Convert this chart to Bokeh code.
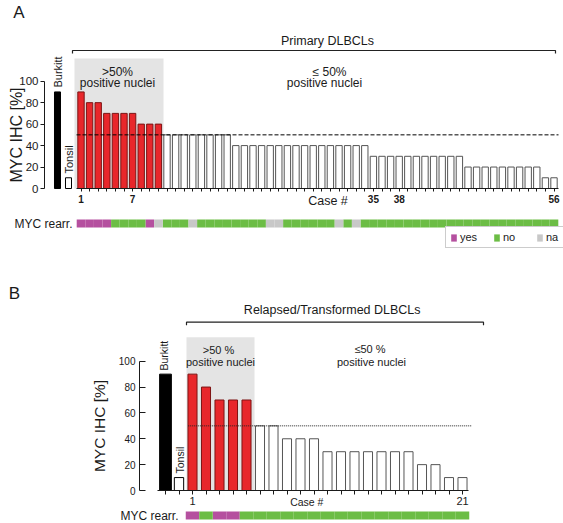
from math import pi
from bokeh.plotting import figure
from bokeh.models import Range1d, FixedTicker, LinearAxis, Legend, LegendItem
from bokeh.embed import file_html
from bokeh.resources import INLINE
from bokeh.core.properties import value

FONT = "Liberation Sans"

# ---------------- data ----------------
a_cases = list(range(1, 57))
a_values = [90, 80, 80, 70, 70, 70, 70, 60, 60, 60,
            50, 50, 50, 50, 50, 50, 50, 50,
            40, 40, 40, 40, 40, 40, 40, 40, 40, 40, 40, 40, 40, 40, 40, 40,
            30, 30, 30, 30, 30, 30, 30, 30, 30, 30, 30,
            20, 20, 20, 20, 20, 20, 20, 20, 20,
            10, 10]
a_rearr = ["yes", "yes", "yes", "yes", "no", "no", "no", "no", "yes", "na",
           "no", "no", "no", "na", "no", "no", "no", "no", "no", "no", "no", "no",
           "na", "na", "no", "no", "no", "no", "no", "no", "na", "no", "na",
           "no", "no", "no", "no", "no", "no", "no", "no", "no", "no", "no", "no",
           "no", "no", "no", "no", "no", "no", "no", "no", "no", "no", "no"]
a_tick_labels = {1: "1", 7: "7", 35: "35", 38: "38", 56: "56"}

controls = ["Burkitt", "Tonsil"]
a_control_values = [90, 10]

b_cases = list(range(1, 22))
b_values = [90, 80, 70, 70, 70, 50, 50, 40, 40, 40,
            30, 30, 30, 30, 30, 30, 30, 20, 20, 10, 10]
b_rearr = ["yes", "no", "yes", "yes", "no", "no", "no", "no", "no", "no", "no",
           "no", "no", "no", "no", "no", "no", "no", "no", "no", "no"]
b_control_values = [90, 10]
b_control_pos = [-1, 0]
b_tick_labels = {1: "1", 21: "21"}

y_ticks = [0, 20, 40, 60, 80, 100]
threshold = 50
rearr_levels = ["yes", "no", "na"]

# ---------------- styles ----------------
RED, RED_LINE = "#e8272b", "#7d1414"
WHITE_LINE = "#555555"
SHADE = "#e4e4e4"
REARR_COLORS = {"yes": "#b5509f", "no": "#6cbd45", "na": "#c8c8c8"}
INK = "#1a1a1a"

W, H = 563, 523

# pixel -> data helpers used only to place annotations
AX = lambda px: 1 + (px - 80.5) / 8.6
AY = lambda py: (188 - py) / 1.073
BX = lambda px: 1 + (px - 192) / 13.5
BY = lambda py: (490 - py) / 1.293

p = figure(width=W, height=H,
           x_range=Range1d(AX(0), AX(W)), y_range=Range1d(AY(H), AY(0)),
           x_axis_location=None, y_axis_location=None,
           output_backend="svg", toolbar_location=None, min_border=0)
p.extra_x_ranges = {"bx": Range1d(BX(0), BX(W))}
p.extra_y_ranges = {"by": Range1d(BY(H), BY(0))}
p.title.visible = False
p.xgrid.visible = False
p.ygrid.visible = False
p.outline_line_color = None
p.background_fill_color = "white"
p.border_fill_color = "white"

B = dict(x_range_name="bx", y_range_name="by")


def txt(x, y, s, size, angle=0, align="center", baseline="middle", style="normal", **kw):
    p.text(x=[x], y=[y], text=[s], angle=angle, text_align=align, text_baseline=baseline,
           text_font=value(FONT), text_font_size=value(size), text_color=INK,
           text_font_style=style, **kw)


def y_axis(loc, tick_in, tick_out, standoff, size, label, label_size, label_standoff, **kw):
    ax = LinearAxis(fixed_location=loc, bounds=(0, 100), ticker=FixedTicker(ticks=y_ticks), **kw)
    ax.minor_tick_line_color = None
    ax.major_tick_in = tick_in
    ax.major_tick_out = tick_out
    ax.major_label_standoff = standoff
    ax.major_label_text_font = FONT
    ax.major_label_text_font_size = size
    ax.major_label_text_color = INK
    ax.axis_line_color = INK
    ax.major_tick_line_color = INK
    ax.axis_label = label
    ax.axis_label_text_font = FONT
    ax.axis_label_text_font_size = label_size
    ax.axis_label_text_font_style = "normal"
    ax.axis_label_text_color = INK
    ax.axis_label_standoff = label_standoff
    p.add_layout(ax, "left")


def x_axis(ticks, labels, bounds, tick_out, standoff, size, style, **kw):
    ax = LinearAxis(fixed_location=0, bounds=bounds, ticker=FixedTicker(ticks=ticks), **kw)
    ax.major_label_overrides = {t: labels.get(t, "") for t in ticks}
    ax.minor_tick_line_color = None
    ax.major_tick_in = 0
    ax.major_tick_out = tick_out
    ax.major_label_standoff = standoff
    ax.major_label_text_font = FONT
    ax.major_label_text_font_size = size
    ax.major_label_text_font_style = style
    ax.major_label_text_color = INK
    ax.axis_line_color = INK
    ax.major_tick_line_color = INK
    p.add_layout(ax, "below")


# ================= Panel A =================
p.quad(left=[AX(74)], right=[AX(163)], bottom=[0], top=[AY(58)], fill_color=SHADE, line_color=None)
p.vbar(x=a_cases, top=a_values, width=0.74,
       fill_color=[RED if v > threshold else "white" for v in a_values],
       line_color=[RED_LINE if v > threshold else WHITE_LINE for v in a_values], line_width=1)
p.vbar(x=[AX(57), AX(68)], top=a_control_values, width=0.7,
       fill_color=["black", "white"], line_color="black", line_width=1)
p.segment(x0=[AX(76)], y0=[threshold], x1=[AX(558)], y1=[threshold],
          line_color="black", line_width=1, line_dash="4 2")
p.multi_line(xs=[[AX(72), AX(72), AX(555), AX(555)]], ys=[[AY(53), AY(50), AY(50), AY(53)]],
             line_color="#222222", line_width=1.2)
txt(AX(117), AY(71.5), ">50%", "12px")
txt(AX(117), AY(82), "positive nuclei", "12px")
txt(AX(329), AY(71.5), "\u2264 50%", "12px")
txt(AX(324), AY(82), "positive nuclei", "12px")
txt(AX(327), AY(40), "Primary DLBCLs", "12.5px")
for name, px, py in zip(controls, [57.5, 68], [87, 173]):
    txt(AX(px), AY(py), name, "11px", angle=pi / 2, align="left")
txt(AX(18.5), AY(11.5), "A", "17px")
txt(AX(327.5), AY(200), "Case #", "12.5px")
y_axis(AX(44), 0, 4, 2, "11.5px", "MYC IHC [%]", "16px", -9)
x_axis(a_cases, a_tick_labels, (0.5, 56.5), 3, 3, "10px", "bold")

# MYC rearrangement strip A + legend
txt(AX(72), AY(223), "MYC rearr.", "12px", align="right")
items = []
for lev in rearr_levels:
    xs = [c for c, r in zip(a_cases, a_rearr) if r == lev]
    r = p.quad(left=[c - 0.5 for c in xs], right=[c + 0.5 for c in xs],
               bottom=AY(227), top=AY(219), fill_color=REARR_COLORS[lev], line_color=None)
    items.append(LegendItem(label=lev, renderers=[r]))
lg = Legend(items=items, orientation="horizontal", location=(445, H - 248),
            padding=4, spacing=13, label_standoff=3, margin=0,
            glyph_width=7, glyph_height=9, label_height=9,
            label_text_font=FONT, label_text_font_size="11px",
            label_text_color=INK, border_line_color="#9a9a9a",
            border_line_width=1.5, background_fill_alpha=1)
p.add_layout(lg)

# ================= Panel B =================
p.quad(left=[BX(186)], right=[BX(254)], bottom=[0], top=[BY(336.7)], fill_color=SHADE,
       line_color=None, **B)
p.vbar(x=b_cases, top=b_values, width=0.67,
       fill_color=[RED if v > threshold else "white" for v in b_values],
       line_color=[RED_LINE if v > threshold else WHITE_LINE for v in b_values], line_width=1, **B)
p.vbar(x=b_control_pos, top=b_control_values, width=[0.87, 0.69],
       fill_color=["black", "white"], line_color="black", line_width=1, **B)
p.segment(x0=[BX(187.7)], y0=[threshold], x1=[BX(471.7)], y1=[threshold],
          line_color="#222222", line_width=1, line_dash="1 1", **B)
p.multi_line(xs=[[BX(186), BX(186), BX(483), BX(483)]],
             ys=[[BY(324.7), BY(321.7), BY(321.7), BY(324.7)]],
             line_color="#222222", line_width=1.2, **B)
txt(BX(218), BY(349), ">50 %", "11px", **B)
txt(BX(220), BY(361.5), "positive nuclei", "11px", **B)
txt(BX(369.5), BY(348), "\u226450 %", "11px", **B)
txt(BX(371), BY(361.5), "positive nuclei", "11px", **B)
txt(BX(331.7), BY(309), "Relapsed/Transformed DLBCLs", "12.5px", **B)
for name, px, py in zip(controls, [163.5, 179], [370, 473]):
    txt(BX(px), BY(py), name, "10.5px", angle=pi / 2, align="left", **B)
txt(BX(14), BY(292.5), "B", "17px", **B)
txt(BX(306.3), BY(501), "Case #", "10.5px", **B)
y_axis(BX(139), 6, 0, 4, "10px", "MYC IHC [%]", "15.5px", 8, **B)
x_axis(list(range(-1, 22)), b_tick_labels, (-1.6, 21.45), 4, 2, "11px", "normal", **B)

# MYC rearrangement strip B
txt(BX(178), BY(515), "MYC rearr.", "12px", align="right", **B)
for lev in rearr_levels:
    xs = [c for c, r in zip(b_cases, b_rearr) if r == lev]
    if xs:
        p.quad(left=[c - 0.5 for c in xs], right=[c + 0.5 for c in xs],
               bottom=BY(519), top=BY(511), fill_color=REARR_COLORS[lev], line_color=None, **B)

open("out.html", "w").write(file_html(p, INLINE))
